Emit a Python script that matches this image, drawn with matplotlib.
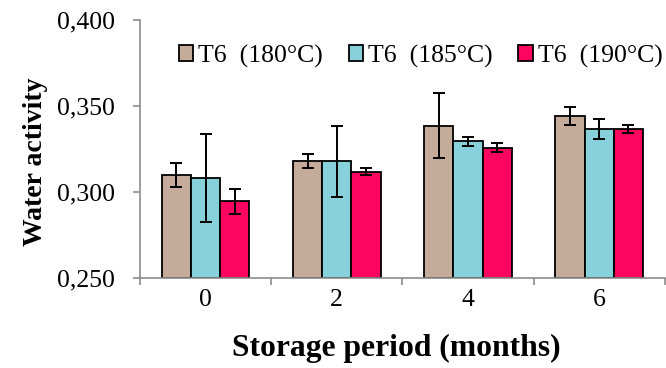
import matplotlib
matplotlib.use("Agg")
import matplotlib.pyplot as plt
import numpy as np
from matplotlib.ticker import FuncFormatter, FixedLocator

plt.rcParams['font.family'] = ['Liberation Serif', 'DejaVu Serif']

months = ["0", "2", "4", "6"]
series = ["T6  (180°C)", "T6  (185°C)", "T6  (190°C)"]
colors = ["#C5AB99", "#86D1DA", "#FC0560"]

values = [
    [0.310, 0.318, 0.3385, 0.3442],  # 180 °C
    [0.3083, 0.3178, 0.3294, 0.3366],  # 185 °C
    [0.2946, 0.3118, 0.3258, 0.3366],  # 190 °C
]
errors = [
    [0.0070, 0.0040, 0.0190, 0.0050],
    [0.0255, 0.0206, 0.0026, 0.0060],
    [0.0073, 0.0020, 0.0025, 0.0021],
]

fig = plt.figure(figsize=(6.66, 3.68), dpi=100)
ax = fig.add_axes([0.2102, 0.2446, 0.788, 0.7011])

x = np.arange(len(months))
w = 0.223
for i, (vals, errs, c, lab) in enumerate(zip(values, errors, colors, series)):
    ax.bar(x + (i - 1) * w, np.array(vals) - 0.25, w, bottom=0.25, color=c,
           edgecolor="black", linewidth=1.3, label=lab, zorder=2)
    ax.errorbar(x + (i - 1) * w, vals, yerr=errs, fmt="none", ecolor="black",
                elinewidth=1.4, capsize=4.5, capthick=1.4, zorder=3)

ax.set_ylim(0.25, 0.40)
ax.set_xlim(-0.5, len(months) - 0.5)
ax.set_yticks([0.25, 0.30, 0.35, 0.40])
ax.yaxis.set_major_formatter(FuncFormatter(lambda v, p: f"{v:.3f}".replace(".", ",")))
ax.set_xticks(x)
ax.set_xticklabels(months)
ax.xaxis.set_minor_locator(FixedLocator(np.arange(-0.5, len(months), 1.0)))
ax.tick_params(axis="x", which="major", length=0, labelsize=18.5, pad=8)
ax.tick_params(axis="x", which="minor", length=5, color="#8c8c8c", width=1.2)
ax.tick_params(axis="y", length=5, color="#8c8c8c", width=1.2, labelsize=18.5, pad=13)

for s in ["top", "right"]:
    ax.spines[s].set_visible(False)
for s in ["left", "bottom"]:
    ax.spines[s].set_color("#8c8c8c")
    ax.spines[s].set_linewidth(1.2)

ax.set_ylabel("Water activity", fontsize=20, fontweight="bold")
ax.yaxis.set_label_coords(-0.176, 0.45)
ax.set_xlabel("Storage period (months)", fontsize=22.8, fontweight="bold")
ax.xaxis.set_label_coords(0.488, -0.215)

leg = ax.legend(loc="upper center", bbox_to_anchor=(0.535, 0.965), ncol=3,
                frameon=False, fontsize=18.5, handlelength=0.55, handleheight=0.55,
                handletextpad=0.2, columnspacing=1.0, borderaxespad=0.2)

fig.savefig("out.png", dpi=100)
